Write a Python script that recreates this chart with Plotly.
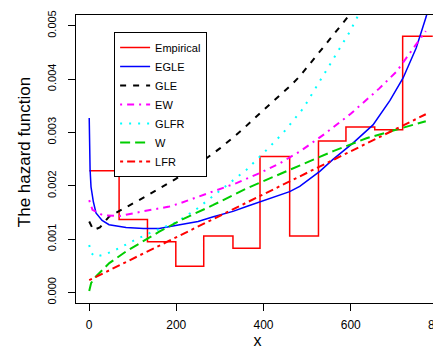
import plotly.graph_objects as go

# ---- data ----
emp_edges = [0.7, 69, 134, 199, 263, 330, 392, 460, 526, 589, 655, 719, 788]
emp_vals = [0.00228, 0.00137, 0.00095, 0.00049, 0.00106, 0.00083, 0.00255,
            0.00106, 0.00284, 0.0031, 0.00305, 0.0048]

egle_x = [0.5, 1, 2.5, 4.6, 10, 16, 30, 46, 85, 125, 161, 208, 250, 285, 330,
          361, 400, 460, 483, 529, 560, 605, 651, 690, 720, 750, 773, 780]
egle_y = [0.00327, 0.0029, 0.0023, 0.00198, 0.0017, 0.00149, 0.00135, 0.00127,
          0.00122, 0.0012, 0.0012, 0.00127, 0.00133, 0.00142, 0.00152, 0.00161,
          0.00172, 0.00189, 0.00199, 0.00227, 0.0025, 0.0028, 0.00314, 0.0036,
          0.00402, 0.00458, 0.00517, 0.0054]

gle_x = [0.5, 10, 25, 46, 92, 130, 199, 250, 300, 350, 392, 460, 483, 529, 594, 610]
gle_y = [0.00133, 0.00117, 0.00122, 0.00142, 0.00163, 0.0018, 0.00213, 0.0024,
         0.0027, 0.00304, 0.00336, 0.00386, 0.00405, 0.00451, 0.00517, 0.00535]

ew_x = [0.5, 8, 31, 69, 123, 184, 208, 285, 338, 392, 437, 483, 540, 600, 628,
        665, 705, 743, 772]
ew_y = [0.00173, 0.00155, 0.00145, 0.00143, 0.00152, 0.00161, 0.00167, 0.00189,
        0.00205, 0.00224, 0.00242, 0.00264, 0.00297, 0.00335, 0.00355, 0.00382,
        0.00414, 0.00458, 0.0049]

glfr_x = [0.5, 4.6, 16, 39, 69, 104, 146, 199, 246, 323, 361, 407, 445, 491,
          529, 567, 598, 617, 630]
glfr_y = [0.00089, 0.00074, 0.00067, 0.00072, 0.00083, 0.00098, 0.00114, 0.00131,
          0.00156, 0.00205, 0.0023, 0.00267, 0.00299, 0.00345, 0.00395, 0.00447,
          0.00489, 0.00517, 0.0054]

w_x = [0.5, 5, 16, 46.5, 85, 123, 161, 214, 285, 361, 460, 483, 560, 636, 700, 772]
w_y = [0.00003, 0.00018, 0.0003, 0.00055, 0.00077, 0.00095, 0.00114, 0.00137,
       0.00164, 0.00195, 0.0023, 0.00239, 0.00265, 0.00289, 0.00304, 0.00321]

lfr_x = [0.5, 85, 208, 285, 392, 483, 628, 772]
lfr_y = [0.00023, 0.00057, 0.00108, 0.00138, 0.00181, 0.00218, 0.00276, 0.00334]

x_ticks = [0, 200, 400, 600, 800]
y_ticks = [0.000, 0.001, 0.002, 0.003, 0.004, 0.005]

FONT = "Liberation Sans, Arial, Helvetica, sans-serif"

fig = go.Figure()
fig.add_trace(go.Scatter(x=emp_edges, y=emp_vals + [emp_vals[-1]], mode="lines",
                         line=dict(color="#FF0000", width=1.5, shape="hv"),
                         name="Empirical"))
fig.add_trace(go.Scatter(x=egle_x, y=egle_y, mode="lines",
                         line=dict(color="#0000FF", width=1.5), name="EGLE"))
fig.add_trace(go.Scatter(x=gle_x, y=gle_y, mode="lines",
                         line=dict(color="#000000", width=2, dash="6px,7px"),
                         name="GLE"))
fig.add_trace(go.Scatter(x=ew_x, y=ew_y, mode="lines",
                         line=dict(color="#FF00FF", width=2, dash="2px,5px,7px,5px"),
                         name="EW"))
fig.add_trace(go.Scatter(x=glfr_x, y=glfr_y, mode="lines",
                         line=dict(color="#00FFFF", width=2, dash="2px,7px"),
                         name="GLFR"))
fig.add_trace(go.Scatter(x=w_x, y=w_y, mode="lines",
                         line=dict(color="#00CD00", width=2, dash="10px,5px"),
                         name="W"))
fig.add_trace(go.Scatter(x=lfr_x, y=lfr_y, mode="lines",
                         line=dict(color="#FF0000", width=2, dash="3px,4px,8px,4px"),
                         name="LFR"))

# the page body adds an 8px margin, so the figure is 8px smaller and shifted
fig.update_layout(
    width=433, height=341,
    margin=dict(l=68, r=2, t=7, b=46, autoexpand=False),
    paper_bgcolor="white", plot_bgcolor="white",
    font=dict(family=FONT, color="black"),
    showlegend=True,
    legend=dict(x=0.105, y=0.941, xanchor="left", yanchor="top",
                bordercolor="black", borderwidth=1, bgcolor="white",
                font=dict(size=11, family=FONT), tracegroupgap=0,
                itemwidth=30),
    xaxis=dict(range=[-29.8, 802.3], tickvals=x_ticks,
               ticktext=[str(v) for v in x_ticks],
               ticks="outside", ticklen=7, tickcolor="black",
               ticklabelstandoff=4, ticklabeloverflow="allow",
               showline=True, linecolor="black", linewidth=1, mirror=True,
               showgrid=False, zeroline=False, automargin=False,
               tickfont=dict(size=12),
               title=dict(text="x", font=dict(size=16), standoff=6)),
    yaxis=dict(range=[-0.000197, 0.0052], tickvals=y_ticks,
               ticktext=["%.3f" % v for v in y_ticks], tickangle=-90,
               ticks="outside", ticklen=7, tickcolor="black",
               ticklabelstandoff=8,
               showline=True, linecolor="black", linewidth=1, mirror=True,
               showgrid=False, zeroline=False, automargin=False,
               tickfont=dict(size=11)),
    annotations=[dict(text="The hazard function", xref="paper", yref="paper",
                      x=-0.143, y=0.524, xanchor="center", yanchor="middle",
                      textangle=-90, showarrow=False, font=dict(size=17))],
)

fig.write_html("out.html")
